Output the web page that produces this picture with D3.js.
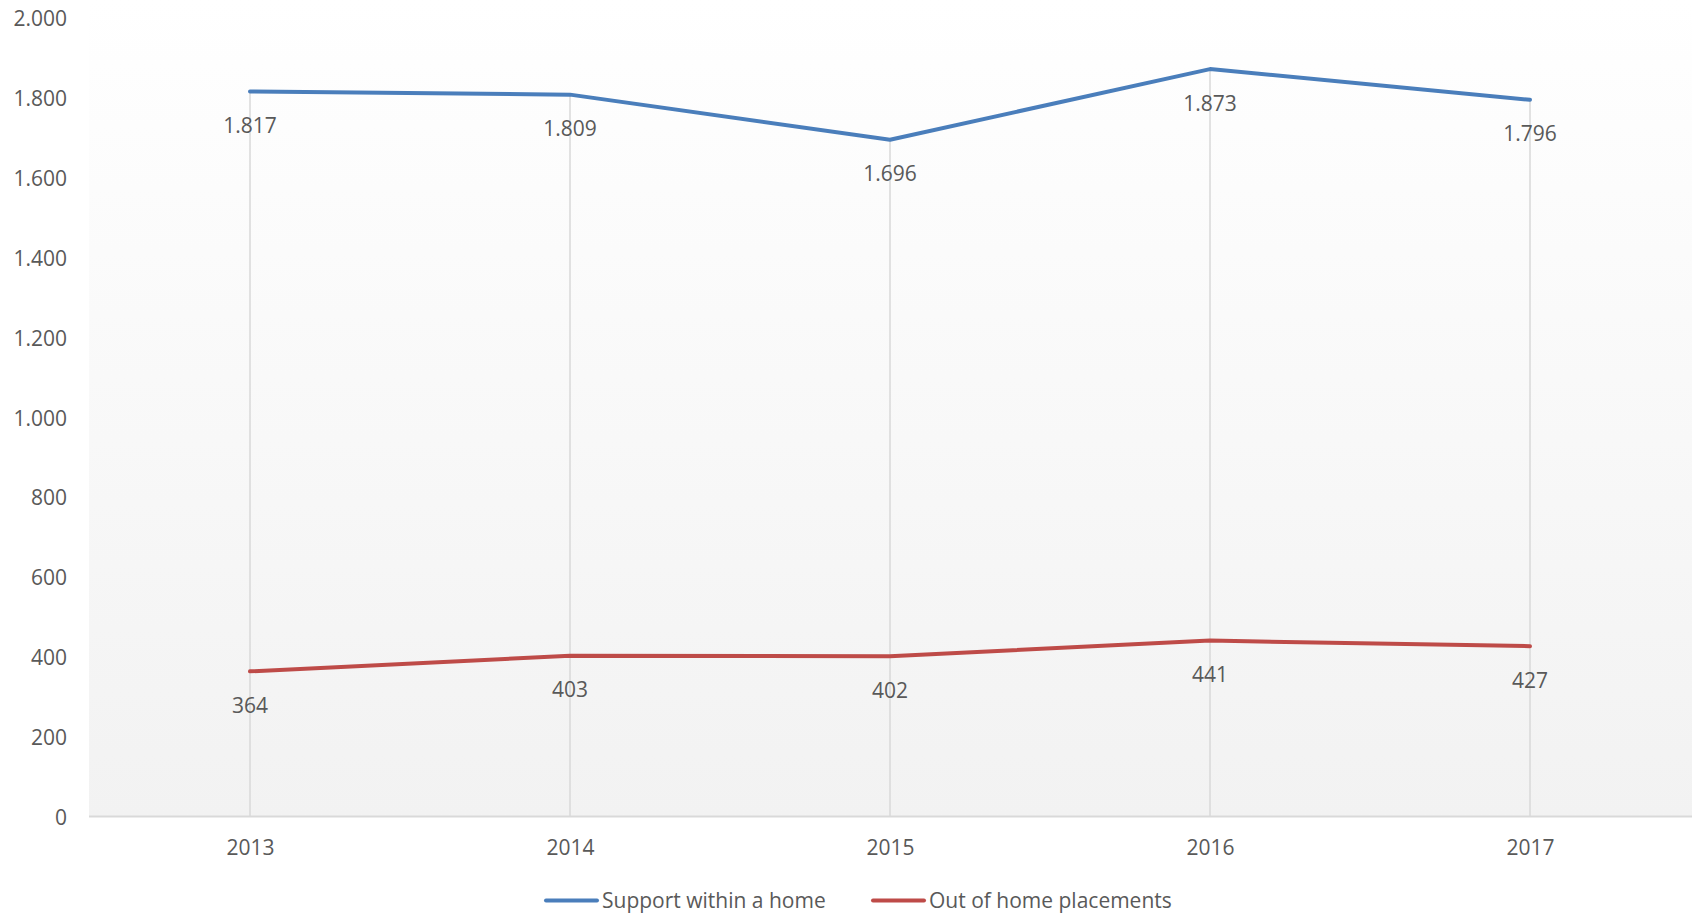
<!DOCTYPE html>
<html>
<head>
<meta charset="utf-8">
<script src="https://cdn.jsdelivr.net/npm/d3@7"></script>
<style>
  html, body { margin: 0; padding: 0; background: #ffffff; }
  svg { display: block; }
  text { font-family: "Open Sans", sans-serif; fill: #595959; }
</style>
</head>
<body>
<svg id="chart" width="1696" height="916"></svg>
<script>
const years = ["2013", "2014", "2015", "2016", "2017"];
const supportWithinHome = [1817, 1809, 1696, 1873, 1796];
const outOfHomePlacements = [364, 403, 402, 441, 427];
const yTicks = [0, 200, 400, 600, 800, 1000, 1200, 1400, 1600, 1800, 2000];
const seriesNames = ["Support within a home", "Out of home placements"];
const seriesColors = ["#4a7ebb", "#be4b48"];

const series = [
  { name: seriesNames[0], values: supportWithinHome, color: seriesColors[0] },
  { name: seriesNames[1], values: outOfHomePlacements, color: seriesColors[1] }
];

const fmt = v => d3.format(",")(v).replace(/,/g, ".");

const svg = d3.select("#chart");
const plot = { left: 89, right: 1692, top: 0, bottom: 816.6 };

const x = d3.scalePoint().domain(years).range([90, 1690]).padding(0.5);
const y = d3.scaleLinear().domain([0, 2000]).range([816.6, 18.4]);

// plot area gradient
const defs = svg.append("defs");
const grad = defs.append("linearGradient").attr("id", "bg").attr("x1", 0).attr("y1", 0).attr("x2", 0).attr("y2", 1);
grad.append("stop").attr("offset", "0%").attr("stop-color", "#ffffff");
grad.append("stop").attr("offset", "100%").attr("stop-color", "#f2f2f2");
svg.append("rect")
  .attr("x", plot.left).attr("y", plot.top)
  .attr("width", plot.right - plot.left).attr("height", plot.bottom - plot.top)
  .attr("fill", "url(#bg)");

// drop lines (from highest point to axis)
svg.append("g").selectAll("line").data(years).join("line")
  .attr("x1", d => x(d)).attr("x2", d => x(d))
  .attr("y1", (d, i) => y(d3.max(series, s => s.values[i])))
  .attr("y2", y(0))
  .attr("stroke", "#d9d9d9").attr("stroke-width", 1.5);

// y axis (labels only)
const yAxis = d3.axisLeft(y).tickValues(yTicks).tickFormat(fmt).tickSize(0).tickPadding(0);
const gy = svg.append("g").attr("transform", "translate(67,0)").call(yAxis);
gy.select(".domain").remove();
gy.selectAll("text").attr("font-size", 21).attr("font-family", "Open Sans").attr("fill", "#595959").attr("dy", "0.36em");

// x axis
const xAxis = d3.axisBottom(x).tickSize(0).tickPadding(0);
const gx = svg.append("g").attr("transform", `translate(0,${y(0)})`).call(xAxis);
gx.select(".domain").remove();
gx.selectAll("text").attr("font-size", 21).attr("font-family", "Open Sans").attr("fill", "#595959")
  .attr("y", 38).attr("dy", 0);
svg.append("line")
  .attr("x1", plot.left).attr("x2", plot.right)
  .attr("y1", y(0)).attr("y2", y(0))
  .attr("stroke", "#d9d9d9").attr("stroke-width", 2);

// lines
const line = d3.line().x((d, i) => x(years[i])).y(d => y(d));
svg.append("g").selectAll("path").data(series).join("path")
  .attr("d", s => line(s.values))
  .attr("fill", "none")
  .attr("stroke", s => s.color)
  .attr("stroke-width", 4)
  .attr("stroke-linecap", "round")
  .attr("stroke-linejoin", "round");

// data labels
series.forEach(s => {
  svg.append("g").selectAll("text").data(s.values).join("text")
    .attr("x", (d, i) => x(years[i]))
    .attr("y", d => y(d) + 41.5)
    .attr("text-anchor", "middle")
    .attr("font-size", 21)
    .text(d => fmt(d));
});

// legend
const legendX = [546, 873];
const lg = svg.append("g");
series.forEach((s, i) => {
  lg.append("line")
    .attr("x1", legendX[i]).attr("x2", legendX[i] + 51)
    .attr("y1", 900.5).attr("y2", 900.5)
    .attr("stroke", s.color).attr("stroke-width", 4).attr("stroke-linecap", "round");
  lg.append("text")
    .attr("x", legendX[i] + 56).attr("y", 908)
    .attr("font-size", 21)
    .text(s.name);
});
</script>
</body>
</html>
